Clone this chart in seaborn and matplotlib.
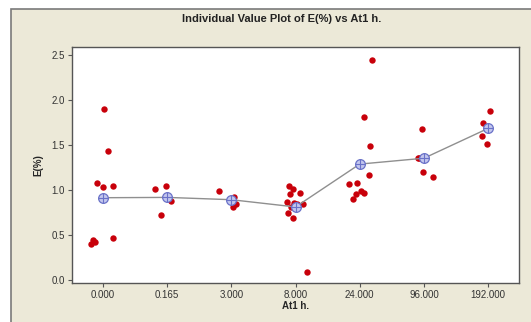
import numpy as np
import pandas as pd
import matplotlib
matplotlib.use("Agg")
from matplotlib import pyplot as plt
from matplotlib.patches import Rectangle
import seaborn as sns

# category labels (At1 h.)
groups = ["0.000", "0.165", "3.000", "8.000", "24.000", "96.000", "192.000"]

# E(%) values, one list per group
e_0 = [1.90, 1.43, 1.08, 1.03, 1.05, 0.47, 0.45, 0.42, 0.40]
e_0165 = [1.05, 1.01, 0.93, 0.88, 0.72]
e_3 = [0.85, 0.92, 0.99, 0.81]
e_8 = [1.04, 1.01, 0.96, 0.97, 0.86, 0.87, 0.85, 0.84, 0.81, 0.75, 0.69, 0.09]
e_24 = [2.44, 1.81, 1.49, 1.17, 1.08, 1.07, 0.97, 0.99, 0.96, 0.90]
e_96 = [1.68, 1.37, 1.36, 1.36, 1.20, 1.15]
e_192 = [1.88, 1.75, 1.60, 1.51]

values = [e_0, e_0165, e_3, e_8, e_24, e_96, e_192]
df = pd.DataFrame({
    "At1 h.": [g for g, v in zip(groups, values) for _ in v],
    "E(%)": [x for v in values for x in v],
})

sns.set_style("white")
plt.rcParams["font.family"] = ["Liberation Sans", "DejaVu Sans"]

bg = "#ece9d8"
fig = plt.figure(figsize=(5.31, 3.22), dpi=100, facecolor="white")
# minitab style beige panel with a frame
fig.patches.append(Rectangle((11 / 531, -0.05), 1.1, 1 - 9 / 322 + 0.05,
                             transform=fig.transFigure, facecolor=bg,
                             edgecolor="#7a7a7a", linewidth=1.2, zorder=-10))
ax = fig.add_axes([72 / 531, 1 - 283 / 322, (519 - 72) / 531, (283 - 47) / 322])
ax.set_facecolor("white")

np.random.seed(3)
sns.stripplot(data=df, x="At1 h.", y="E(%)", order=groups, jitter=0.2,
              color="#c8000a", size=4.6, linewidth=0, ax=ax, zorder=3)

means = df.groupby("At1 h.", sort=False)["E(%)"].mean().reindex(groups)
sns.pointplot(x=groups, y=means.values, order=groups, color="#8f8f8f",
              markers="", linewidth=1.0, errorbar=None, ax=ax, zorder=4)
xs = np.arange(len(groups))
ax.plot(xs, means.values, linestyle="none", marker="o", markersize=7,
        markerfacecolor="#c2c6ee", markeredgecolor="#6a72c8",
        markeredgewidth=0.9, zorder=5)
ax.plot(xs, means.values, linestyle="none", marker="+", markersize=7,
        markeredgecolor="#6a72c8", markeredgewidth=0.8, zorder=6)

ax.set_xlim(-0.48, 6.48)
ax.set_ylim(-0.033, 2.589)
ax.set_yticks([0.0, 0.5, 1.0, 1.5, 2.0, 2.5])
ax.set_yticklabels(["0.0", "0.5", "1.0", "1.5", "2.0", "2.5"])
ax.tick_params(axis="both", direction="out", length=3, width=0.8,
               color="#555555", labelsize=7, labelcolor="#333333", pad=2,
               bottom=True, left=True)
for s in ax.spines.values():
    s.set_color("#555555")
    s.set_linewidth(1.0)

ax.set_xlabel("At1 h.", fontsize=7, fontweight="bold", labelpad=1)
ax.set_ylabel("E(%)", fontsize=7, fontweight="bold", labelpad=6)
fig.text(0.53, 1 - 19 / 322, "Individual Value Plot of E(%) vs At1 h.",
         ha="center", va="center", fontsize=8, fontweight="bold", color="#222222")

fig.savefig("out.png", dpi=100, facecolor=fig.get_facecolor())
